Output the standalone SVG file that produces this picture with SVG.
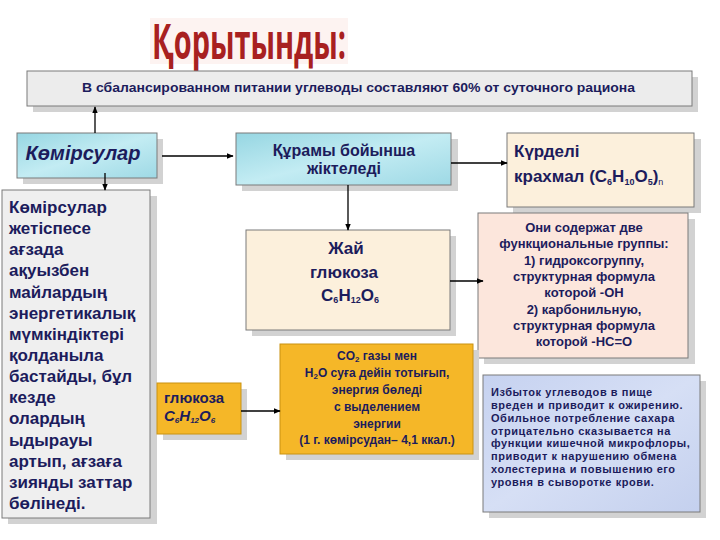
<svg xmlns="http://www.w3.org/2000/svg" width="720" height="540" viewBox="0 0 720 540">
<defs>
<style>
.t{font-family:"Liberation Sans",Arial,sans-serif;font-weight:bold;fill:#1c1c5c}
.sh{fill:#d2d2d2}
.bd{stroke:#7a7a7a;stroke-width:1}
.ln{stroke:#000;stroke-width:1.3;fill:none}
</style>
<linearGradient id="teal" x1="0" y1="0" x2="1" y2="1">
<stop offset="0" stop-color="#96d6e2"/><stop offset="0.5" stop-color="#c3ecf3"/><stop offset="1" stop-color="#9ed9e5"/>
</linearGradient>
<linearGradient id="lav" x1="0" y1="0" x2="1" y2="1">
<stop offset="0" stop-color="#c6d2f0"/><stop offset="0.5" stop-color="#d6dff5"/><stop offset="1" stop-color="#c4d0ee"/>
</linearGradient>
<marker id="ah" viewBox="0 0 10 10" refX="9" refY="5" markerWidth="7" markerHeight="7" orient="auto" markerUnits="userSpaceOnUse">
<path d="M0,1 L10,5 L0,9 z" fill="#000"/>
</marker>
</defs>
<rect width="720" height="540" fill="#fff"/>

<g id="title">
<rect x="150" y="18" width="198" height="46" fill="#fdf3f1"/>
<text x="152" y="59" font-family="'Open Sans','Liberation Sans',sans-serif" font-weight="bold" font-size="48" fill="#a82020" textLength="194" lengthAdjust="spacingAndGlyphs">Қорытынды:</text>
</g>

<g id="banner">
<rect class="sh" x="33" y="77" width="665" height="35"/>
<rect class="bd" x="27" y="71" width="665" height="35" fill="#ececec"/>
<text class="t" x="82" y="92" font-size="12" textLength="553" lengthAdjust="spacingAndGlyphs">В сбалансированном питании  углеводы составляют  60% от суточного рациона</text>
</g>

<g id="komirsular">
<rect class="sh" x="23" y="139" width="140" height="45"/>
<rect class="bd" x="17" y="133" width="140" height="45" fill="url(#teal)"/>
<text class="t" x="83" y="160" font-size="20" font-style="italic" text-anchor="middle">Көмірсулар</text>
</g>

<g id="quramy">
<rect class="sh" x="242" y="139" width="216" height="52"/>
<rect class="bd" x="236" y="133" width="215" height="52" fill="url(#teal)"/>
<text class="t" x="344" y="156" font-size="16" text-anchor="middle">Құрамы бойынша</text>
<text class="t" x="344" y="174" font-size="16" text-anchor="middle">жіктеледі</text>
</g>

<g id="kurdeli">
<rect class="sh" x="513" y="139" width="188" height="74"/>
<rect class="bd" x="507" y="133" width="187" height="74" fill="#fcf0dc"/>
<text class="t" x="514" y="157" font-size="17">Күрделі</text>
<text class="t" x="514" y="182" font-size="17">крахмал (C<tspan font-size="9" dy="3">6</tspan><tspan dy="-3">H</tspan><tspan font-size="9" dy="3">10</tspan><tspan dy="-3">O</tspan><tspan font-size="9" dy="3">5</tspan><tspan dy="-3">)</tspan><tspan font-size="9" dy="3" font-weight="normal">n</tspan></text>
</g>

<g id="left">
<rect class="sh" x="8" y="196" width="149" height="328"/>
<rect class="bd" x="2" y="190" width="148" height="328" fill="#efefef"/>
<g class="t" font-size="17">
<text x="9" y="213">Көмірсулар</text>
<text x="9" y="234">жетіспесе</text>
<text x="9" y="255">ағзада</text>
<text x="9" y="276">ақуызбен</text>
<text x="9" y="298">майлардың</text>
<text x="9" y="319">энергетикалық</text>
<text x="9" y="340">мүмкіндіктері</text>
<text x="9" y="361">қолданыла</text>
<text x="9" y="382">бастайды, бұл</text>
<text x="9" y="403">кезде</text>
<text x="9" y="424">олардың</text>
<text x="9" y="446">ыдырауы</text>
<text x="9" y="467">артып, ағзаға</text>
<text x="9" y="488">зиянды заттар</text>
<text x="9" y="509">бөлінеді.</text>
</g>
</g>

<g id="zhai">
<rect class="sh" x="252" y="236" width="204" height="100"/>
<rect class="bd" x="246" y="230" width="204" height="100" fill="#fcf0dc"/>
<text class="t" x="346" y="254" font-size="17" text-anchor="middle">Жай</text>
<text class="t" x="344" y="278" font-size="17" text-anchor="middle">глюкоза</text>
<text class="t" x="350" y="301" font-size="17" text-anchor="middle">C<tspan font-size="9" dy="2">6</tspan><tspan dy="-2">H</tspan><tspan font-size="9" dy="2">12</tspan><tspan dy="-2">O</tspan><tspan font-size="9" dy="2">6</tspan></text>
</g>

<g id="oni">
<rect class="sh" x="484" y="219" width="211" height="145"/>
<rect class="bd" x="478" y="213" width="210" height="145" fill="#fce6dc"/>
<g class="t" font-size="13" text-anchor="middle">
<text x="584" y="232">Они содержат две</text>
<text x="584" y="248">функциональные группы:</text>
<text x="584" y="265">1) гидроксогруппу,</text>
<text x="584" y="281">структурная формула</text>
<text x="584" y="297">которой  -ОН</text>
<text x="584" y="314">2) карбонильную,</text>
<text x="584" y="330">структурная формула</text>
<text x="584" y="346">которой  -НС=О</text>
</g>
</g>

<g id="glukoza2">
<rect class="sh" x="163" y="389" width="84" height="51"/>
<rect x="157" y="383" width="84" height="51" fill="#f5b728" stroke="#c99210"/>
<text class="t" x="164" y="403" font-size="15">глюкоза</text>
<text class="t" x="164" y="421" font-size="15" font-style="italic">C<tspan font-size="8" dy="2">6</tspan><tspan dy="-2">H</tspan><tspan font-size="8" dy="2">12</tspan><tspan dy="-2">O</tspan><tspan font-size="8" dy="2">6</tspan></text>
</g>

<g id="co2">
<rect class="sh" x="286" y="350" width="193" height="110"/>
<rect x="280" y="344" width="193" height="110" fill="#f5b728" stroke="#c99210"/>
<g class="t" font-size="12" text-anchor="middle">
<text x="377" y="360">CO<tspan font-size="8" dy="2">2</tspan><tspan dy="-2">  газы мен</tspan></text>
<text x="377" y="377">H<tspan font-size="8" dy="2">2</tspan><tspan dy="-2">O суға дейін тотығып,</tspan></text>
<text x="377" y="394">энергия бөледі</text>
<text x="377" y="411">с выделением</text>
<text x="377" y="428">энергии</text>
<text x="377" y="444">(1 г. көмірсудан– 4,1  ккал.)</text>
</g>
</g>

<g id="izbytok">
<rect class="sh" x="489" y="381" width="217" height="137"/>
<rect class="bd" x="483" y="375" width="217" height="137" fill="url(#lav)"/>
<g class="t" font-size="11" letter-spacing="0.55">
<text x="491" y="396">Избыток углеводов в  пище</text>
<text x="491" y="409">вреден  и приводит к  ожирению.</text>
<text x="491" y="422">Обильное потребление сахара</text>
<text x="491" y="435">отрицательно сказывается на</text>
<text x="491" y="447">функции кишечной микрофлоры,</text>
<text x="491" y="460">приводит к нарушению обмена</text>
<text x="491" y="473">холестерина и повышению его</text>
<text x="491" y="486">уровня в сыворотке крови.</text>
</g>
</g>

<g id="connectors">
<line class="ln" x1="95" y1="133" x2="95" y2="107" marker-end="url(#ah)"/>
<line class="ln" x1="162" y1="156" x2="233" y2="156" marker-end="url(#ah)"/>
<line class="ln" x1="105" y1="173" x2="105" y2="190" marker-end="url(#ah)"/>
<line class="ln" x1="451" y1="163" x2="507" y2="163" marker-end="url(#ah)"/>
<line class="ln" x1="348" y1="185" x2="348" y2="230" marker-end="url(#ah)"/>
<line class="ln" x1="450" y1="281" x2="483" y2="281" marker-end="url(#ah)"/>
<line class="ln" x1="241" y1="411" x2="280" y2="411" marker-end="url(#ah)"/>
</g>
</svg>
